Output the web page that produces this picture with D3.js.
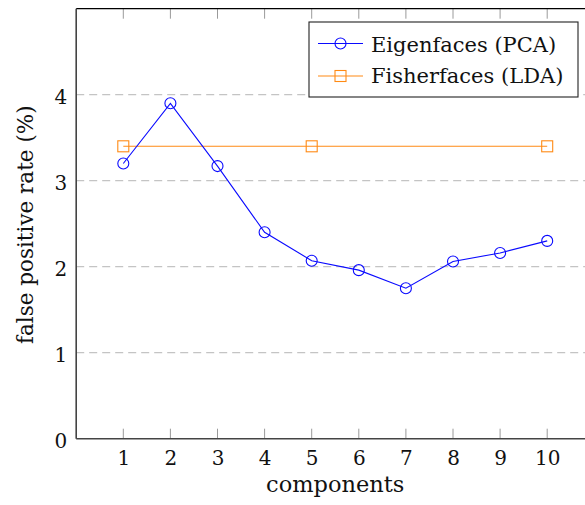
<!DOCTYPE html>
<html>
<head>
<meta charset="utf-8">
<script src="https://cdn.jsdelivr.net/npm/d3@7"></script>
<style>
  html, body { margin: 0; padding: 0; background: #fff; }
  svg { display: block; }
  text { font-family: "DejaVu Serif", serif; fill: #111; }
</style>
</head>
<body>
<svg id="chart" width="585" height="505"></svg>
<script>
// Number of principal / discriminant components
const components = [1, 2, 3, 4, 5, 6, 7, 8, 9, 10];
// False positive rate (%) for Eigenfaces (PCA)
const pcaRate = [3.2, 3.9, 3.17, 2.4, 2.07, 1.96, 1.75, 2.06, 2.16, 2.3];
// Fisherfaces (LDA) is evaluated at three component counts
const ldaComponents = [1, 5, 10];
const ldaRate = [3.4, 3.4, 3.4];
const yTicks = [0, 1, 2, 3, 4];
const seriesNames = ["Eigenfaces (PCA)", "Fisherfaces (LDA)"];

const svg = d3.select("#chart");
const plotL = 76.2, plotR = 594.3, plotT = 8.7, plotB = 438.7;
const blue = "#0a0aff", orange = "#ff8a14";
const tickFont = 20;

const x = d3.scaleLinear().domain([0, 11]).range([plotL, plotR]);
const y = d3.scaleLinear().domain([0, 5]).range([plotB, plotT]);

// Horizontal dashed grid lines
svg.append("g")
  .selectAll("line")
  .data(yTicks.filter(d => d > 0))
  .join("line")
  .attr("x1", plotL).attr("x2", plotR)
  .attr("y1", d => y(d)).attr("y2", d => y(d))
  .attr("stroke", "#c4c4c4")
  .attr("stroke-width", 1.2)
  .attr("stroke-dasharray", "8,5");

// Inward tick marks on the top and bottom edges
const tickG = svg.append("g").attr("stroke", "#9a9a9a").attr("stroke-width", 1);
tickG.selectAll("line.b").data(components).join("line").attr("class", "b")
  .attr("x1", d => x(d)).attr("x2", d => x(d))
  .attr("y1", plotB).attr("y2", plotB - 10);
tickG.selectAll("line.t").data(components).join("line").attr("class", "t")
  .attr("x1", d => x(d)).attr("x2", d => x(d))
  .attr("y1", plotT).attr("y2", plotT + 10);

// Frame
svg.append("line").attr("x1", plotL).attr("x2", plotR).attr("y1", plotT).attr("y2", plotT)
  .attr("stroke", "#000").attr("stroke-width", 1.2);
svg.append("line").attr("x1", plotL).attr("x2", plotR).attr("y1", plotB).attr("y2", plotB)
  .attr("stroke", "#444").attr("stroke-width", 1.6);
svg.append("line").attr("x1", plotL).attr("x2", plotL).attr("y1", plotT).attr("y2", plotB)
  .attr("stroke", "#444").attr("stroke-width", 1.6);

// Axis tick labels
const xAxis = svg.append("g")
  .attr("transform", `translate(0,${plotB})`)
  .call(d3.axisBottom(x).tickValues(components).tickSize(0).tickPadding(12).tickFormat(d3.format("d")));
xAxis.select(".domain").remove();
xAxis.selectAll("text").attr("font-size", tickFont).attr("font-family", "DejaVu Serif").attr("fill", "#111");

const yAxis = svg.append("g")
  .attr("transform", `translate(${plotL},0)`)
  .call(d3.axisLeft(y).tickValues(yTicks).tickSize(0).tickPadding(9).tickFormat(d3.format("d")));
yAxis.select(".domain").remove();
yAxis.selectAll("text").attr("font-size", tickFont).attr("font-family", "DejaVu Serif")
  .attr("fill", "#111").attr("dy", "0.42em");

// Axis titles
svg.append("text")
  .attr("x", (plotL + plotR) / 2).attr("y", 491.5)
  .attr("text-anchor", "middle").attr("font-size", 22.5)
  .text("components");
svg.append("text")
  .attr("transform", `translate(33,${(plotT + plotB) / 2 + 1}) rotate(-90)`)
  .attr("text-anchor", "middle").attr("font-size", 21.5)
  .text("false positive rate (%)");

// Series lines
const line = d3.line().x(d => x(d[0])).y(d => y(d[1]));
const pcaPts = components.map((c, i) => [c, pcaRate[i]]);
const ldaPts = ldaComponents.map((c, i) => [c, ldaRate[i]]);

svg.append("path").datum(ldaPts).attr("d", line)
  .attr("fill", "none").attr("stroke", orange).attr("stroke-width", 1.1);
svg.append("path").datum(pcaPts).attr("d", line)
  .attr("fill", "none").attr("stroke", blue).attr("stroke-width", 1.1);

// Markers
svg.append("g").selectAll("rect").data(ldaPts).join("rect")
  .attr("x", d => x(d[0]) - 5.5).attr("y", d => y(d[1]) - 5.5)
  .attr("width", 11).attr("height", 11)
  .attr("fill", "none").attr("stroke", orange).attr("stroke-width", 1.1);
svg.append("g").selectAll("circle").data(pcaPts).join("circle")
  .attr("cx", d => x(d[0])).attr("cy", d => y(d[1])).attr("r", 5.5)
  .attr("fill", "none").attr("stroke", blue).attr("stroke-width", 1.1);

// Legend
const lg = svg.append("g");
lg.append("rect").attr("x", 309).attr("y", 22).attr("width", 269).attr("height", 75)
  .attr("fill", "#fff").attr("stroke", "#222").attr("stroke-width", 1.1);
const rows = [
  { name: seriesNames[0], color: blue, shape: "circle", cy: 43.5, base: 51.7 },
  { name: seriesNames[1], color: orange, shape: "square", cy: 76, base: 82.5 }
];
rows.forEach(r => {
  lg.append("line").attr("x1", 318).attr("x2", 363).attr("y1", r.cy).attr("y2", r.cy)
    .attr("stroke", r.color).attr("stroke-width", 1.1);
  if (r.shape === "circle") {
    lg.append("circle").attr("cx", 340.5).attr("cy", r.cy).attr("r", 5.5)
      .attr("fill", "none").attr("stroke", r.color).attr("stroke-width", 1.1);
  } else {
    lg.append("rect").attr("x", 335).attr("y", r.cy - 5.5).attr("width", 11).attr("height", 11)
      .attr("fill", "none").attr("stroke", r.color).attr("stroke-width", 1.1);
  }
  lg.append("text").attr("x", 371).attr("y", r.base).attr("font-size", 21).text(r.name);
});
</script>
</body>
</html>
